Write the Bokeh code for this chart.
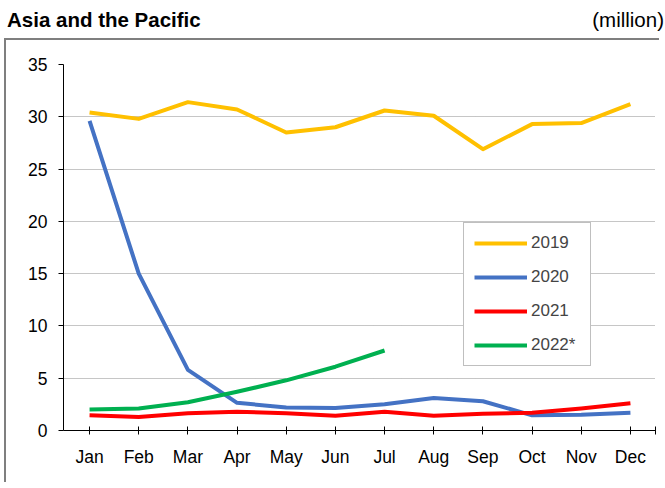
from bokeh.plotting import figure
from bokeh.models import (ColumnDataSource, FixedTicker, Range1d, Legend, LegendItem, Div)
from bokeh.layouts import column
from bokeh.embed import file_html
from bokeh.resources import INLINE

months = ["Jan", "Feb", "Mar", "Apr", "May", "Jun", "Jul", "Aug", "Sep", "Oct", "Nov", "Dec"]
y2019 = [30.4, 29.8, 31.4, 30.7, 28.5, 29.0, 30.6, 30.1, 26.9, 29.3, 29.4, 31.2]
y2020 = [29.6, 15.0, 5.8, 2.65, 2.2, 2.15, 2.5, 3.1, 2.8, 1.45, 1.5, 1.7]
y2021 = [1.45, 1.3, 1.65, 1.8, 1.65, 1.4, 1.8, 1.4, 1.6, 1.7, 2.1, 2.6]
y2022 = [2.0, 2.1, 2.7, 3.7, 4.8, 6.1, 7.65]
series_names = ["2019", "2020", "2021", "2022*"]
y_ticks = [0, 5, 10, 15, 20, 25, 30, 35]
title_text = "Asia and the Pacific"
unit_text = "(million)"

colors = ["#FFC000", "#4472C4", "#FF0000", "#00B050"]
FONT = "Liberation Sans"

header = Div(
    text=(f'<div style="display:flex;justify-content:space-between;align-items:flex-end;'
          f'width:657px;height:34px;font-family:\'{FONT}\';color:black;">'
          f'<span style="font-weight:bold;font-size:20.5px;">{title_text}</span>'
          f'<span style="font-size:20.5px;">{unit_text}</span></div>'),
    width=661, height=38, margin=(0, 0, 0, 7))

p = figure(width=655, height=444, output_backend="svg", toolbar_location=None,
           x_range=Range1d(-0.53, 11.51), y_range=Range1d(0, 35),
           min_border_left=57, min_border_top=24, min_border_right=6, min_border_bottom=54,
           margin=(0, 0, 0, 4),
           styles={"border-left": "2px solid #7f7f7f", "border-top": "2px solid #7f7f7f"})
p.outline_line_color = None

xs = list(range(len(months)))
renderers = []
for name, vals, c in zip(series_names, [y2019, y2020, y2021, y2022], colors):
    src = ColumnDataSource(dict(x=xs[:len(vals)], y=vals))
    r = p.line("x", "y", source=src, line_color=c, line_width=4, line_join="round")
    renderers.append((name, r))

p.xaxis.ticker = FixedTicker(ticks=xs + [11.5])
overrides = {i: m for i, m in enumerate(months)}
overrides[11.5] = ""
p.xaxis.major_label_overrides = overrides
p.xaxis.major_tick_in = 4
p.xaxis.major_tick_out = 4
p.xaxis.minor_tick_line_color = None
p.xaxis.axis_line_color = "black"
p.xaxis.major_tick_line_color = "black"
p.xaxis.major_label_text_font = FONT
p.xaxis.major_label_text_font_size = "17.5px"
p.xaxis.major_label_text_color = "black"
p.xaxis.major_label_standoff = 12

p.yaxis.ticker = FixedTicker(ticks=y_ticks)
p.yaxis.major_tick_in = 0
p.yaxis.major_tick_out = 5
p.yaxis.minor_tick_line_color = None
p.yaxis.axis_line_color = "black"
p.yaxis.major_tick_line_color = "black"
p.yaxis.major_label_text_font = FONT
p.yaxis.major_label_text_font_size = "17.5px"
p.yaxis.major_label_text_color = "black"
p.yaxis.major_label_standoff = 11

p.xgrid.grid_line_color = None
p.ygrid.grid_line_color = "#8c8c8c"
p.ygrid.grid_line_dash = "1 1"

legend = Legend(items=[LegendItem(label=n, renderers=[r]) for n, r in renderers],
                location=(400, 64), glyph_width=53, glyph_height=20, label_height=20,
                label_standoff=4, spacing=14, padding=10, label_width=49,
                label_text_font=FONT, label_text_font_size="17px",
                border_line_color="#808080", border_line_width=1,
                background_fill_color="white", background_fill_alpha=1.0)
p.add_layout(legend, "center")

layout = column(header, p, spacing=0)
open("out.html", "w").write(file_html(layout, INLINE))
